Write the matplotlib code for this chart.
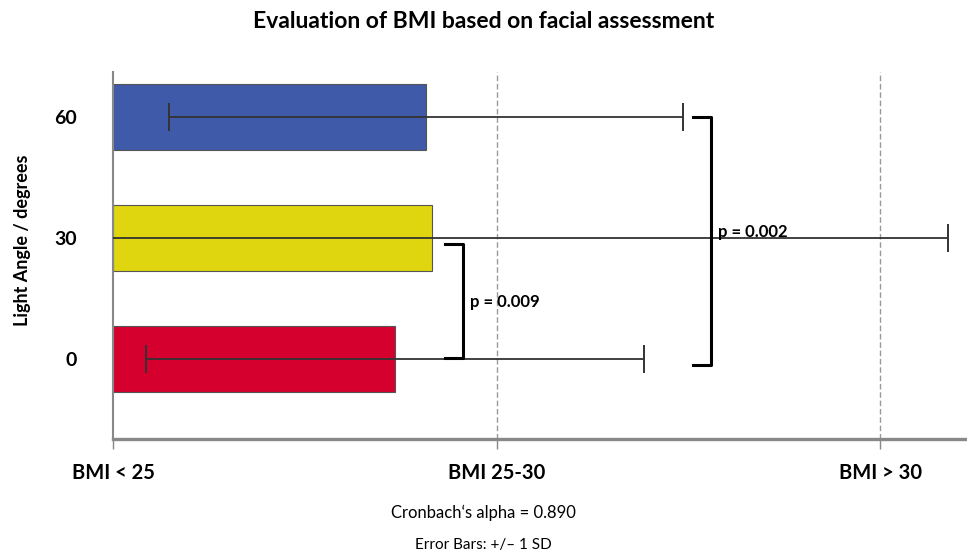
import matplotlib
matplotlib.use("Agg")
import matplotlib.pyplot as plt
import numpy as np

# ---- data ----
angles = ["0", "30", "60"]
means = [0.735, 0.831, 0.816]          # position on BMI category scale
sds = [0.649, 1.345, 0.671]            # +/- 1 SD
colors = ["#D6002F", "#E0D60F", "#3F5AA8"]
bmi_labels = ["BMI < 25", "BMI 25-30", "BMI > 30"]
comparisons = [("0", "30", "p = 0.009"), ("0", "60", "p = 0.002")]

plt.rcParams['font.family'] = ['Lato', 'DejaVu Sans']

fig = plt.figure(figsize=(9.67, 5.53), dpi=100)
ax = fig.add_axes([0.1169, 0.2061, 0.882, 0.6642])

ypos = np.arange(len(angles))
ax.barh(ypos, means, height=0.55, color=colors, edgecolor="#555555", linewidth=0.8, zorder=2)
ax.errorbar(means, ypos, xerr=sds, fmt="none", ecolor="#333333", elinewidth=1.3,
            capsize=10.4, capthick=1.4, zorder=3)

ax.set_xlim(0, 2.224)
ax.set_ylim(-0.66, 2.374)

# dashed category lines
for xv in range(1, len(bmi_labels)):
    ax.axvline(xv, color="#999999", linestyle=(0, (4, 2)), linewidth=1.0, zorder=1)

ax.set_xticks(range(len(bmi_labels)))
ax.set_xticklabels(bmi_labels, fontsize=14.5, fontweight="bold")
ax.tick_params(axis="x", length=7, color="#888888", width=1, pad=10)
ax.set_yticks(ypos)
ax.set_yticklabels(angles, fontsize=14, fontweight="bold")
ax.tick_params(axis="y", length=0, pad=26)

for s in ["top", "right"]:
    ax.spines[s].set_visible(False)
ax.spines["left"].set_color("#888888")
ax.spines["left"].set_linewidth(1.5)
ax.spines["bottom"].set_color("#888888")
ax.spines["bottom"].set_linewidth(2.4)

fig.text(23 / 967, 1 - 240 / 553, "Light Angle / degrees", rotation=90, ha="center", va="center",
         fontsize=13, fontweight="bold")

# significance brackets
bracket_x = [0.913, 1.559]
arm = 0.047
text_dy = [0.47, 1.05]
idx = {a: i for i, a in enumerate(angles)}
for (a, b, lab), bx, ty in zip(comparisons, bracket_x, text_dy):
    y0 = idx[a] + (0.008 if bx < 1 else -0.046)
    y1 = idx[b] - (0.05 if bx < 1 else 0.0)
    ax.plot([bx - arm, bx, bx, bx - arm], [y1, y1, y0, y0], color="black",
            linewidth=2.2, solid_joinstyle="round", zorder=4)
    ax.text(bx + 0.018, ty, lab, fontsize=12, fontweight="bold", va="center", ha="left", zorder=5)

fig.text(0.5, 1 - 22 / 553, "Evaluation of BMI based on facial assessment", ha="center", va="center",
         fontsize=16.5, fontweight="bold")
fig.text(0.5, 1 - 513 / 553, "Cronbach\u2018s alpha = 0.890", ha="center", va="center", fontsize=12)
fig.text(0.5, 1 - 545 / 553, "Error Bars: +/\u2013 1 SD", ha="center", va="center", fontsize=11)

fig.savefig("out.png", dpi=100)
